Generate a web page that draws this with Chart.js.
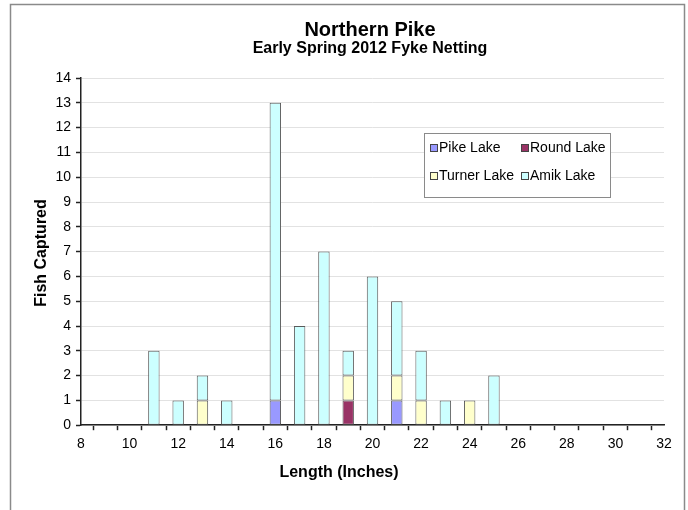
<!DOCTYPE html>
<html>
<head>
<meta charset="utf-8">
<script src="https://cdn.jsdelivr.net/npm/chart.js@4"></script>
<style>
  html, body { margin: 0; padding: 0; background: #fff; }
  #wrap { width: 688px; height: 510px; position: relative; }
</style>
</head>
<body>
<div id="wrap"><canvas id="c" width="688" height="510"></canvas></div>
<script>
// Length classes (inches) on the x axis
const lengths = [8,9,10,11,12,13,14,15,16,17,18,19,20,21,22,23,24,25,26,27,28,29,30,31,32];
// Fish captured per lake, one value per length class
const pikeLake   = [0,0,0,0,0,0,0,0,1,0,0,0,0,1,0,0,0,0,0,0,0,0,0,0,0];
const roundLake  = [0,0,0,0,0,0,0,0,0,0,0,1,0,0,0,0,0,0,0,0,0,0,0,0,0];
const turnerLake = [0,0,0,0,0,1,0,0,0,0,0,1,0,1,1,0,1,0,0,0,0,0,0,0,0];
const amikLake   = [0,0,0,3,1,1,1,0,12,4,7,1,6,3,2,1,0,2,0,0,0,0,0,0,0];
const lakeNames  = ['Pike Lake', 'Round Lake', 'Turner Lake', 'Amik Lake'];
const yTicks     = [0,1,2,3,4,5,6,7,8,9,10,11,12,13,14];

const FONT = '"Liberation Sans", Arial, sans-serif';
const colors = ['#9999FF', '#993366', '#FFFFCC', '#CCFFFF'];

function ds(label, data, color) {
  return {
    label,
    // empty classes are left out so no outline is drawn on the baseline
    data: data.map(v => (v === 0 ? null : v)),
    backgroundColor: color,
    borderColor: '#5a5a5a',
    borderWidth: 1,
    borderSkipped: false,
    barPercentage: 0.47,
    categoryPercentage: 1.0
  };
}

// Frame, titles, axis titles and legend box
const decor = {
  id: 'decor',
  afterDraw(chart) {
    const ctx = chart.ctx;
    ctx.save();
    // outer frame
    ctx.strokeStyle = '#8a8a8a';
    ctx.lineWidth = 1.5;
    ctx.beginPath();
    ctx.moveTo(10.5, 520);
    ctx.lineTo(10.5, 4.5);
    ctx.lineTo(684.5, 4.5);
    ctx.lineTo(684.5, 520);
    ctx.stroke();

    ctx.fillStyle = '#000';
    ctx.textAlign = 'center';
    ctx.textBaseline = 'middle';
    ctx.font = 'bold 20px ' + FONT;
    ctx.fillText('Northern Pike', 370, 30);
    ctx.font = 'bold 16px ' + FONT;
    ctx.fillText('Early Spring 2012 Fyke Netting', 370, 49);

    ctx.font = 'bold 16px ' + FONT;
    ctx.fillText('Length (Inches)', 339, 473);
    ctx.save();
    ctx.translate(42, 253);
    ctx.rotate(-Math.PI / 2);
    ctx.fillText('Fish Captured', 0, 0);
    ctx.restore();

    // legend
    const lx = 424, ly = 133, lw = 186, lh = 64;
    ctx.fillStyle = '#fff';
    ctx.fillRect(lx, ly, lw, lh);
    ctx.strokeStyle = '#8a8a8a';
    ctx.lineWidth = 1;
    ctx.strokeRect(lx + 0.5, ly + 0.5, lw, lh);
    const pos = [[430, 148], [521, 148], [430, 176], [521, 176]];
    ctx.font = '14px ' + FONT;
    ctx.textAlign = 'left';
    chart.data.datasets.forEach((d, i) => {
      const [x, y] = pos[i];
      ctx.fillStyle = d.backgroundColor;
      ctx.fillRect(x, y - 4, 7, 7);
      ctx.strokeStyle = '#444';
      ctx.strokeRect(x + 0.5, y - 3.5, 7, 7);
      ctx.fillStyle = '#000';
      ctx.fillText(d.label, x + 9, y);
    });
    ctx.restore();
  }
};

new Chart(document.getElementById('c'), {
  type: 'bar',
  data: {
    labels: lengths,
    datasets: [
      ds(lakeNames[0], pikeLake, colors[0]),
      ds(lakeNames[1], roundLake, colors[1]),
      ds(lakeNames[2], turnerLake, colors[2]),
      ds(lakeNames[3], amikLake, colors[3])
    ]
  },
  options: {
    responsive: false,
    animation: false,
    layout: { padding: { left: 47, right: 24, top: 78, bottom: 51 } },
    plugins: {
      legend: { display: false },
      title: { display: false },
      tooltip: { enabled: false }
    },
    scales: {
      x: {
        stacked: true,
        offset: false,
        grid: {
          drawOnChartArea: false,
          drawTicks: true,
          tickLength: 5,
          tickColor: '#222',
          tickWidth: 1.5
        },
        border: { color: '#222', width: 1.5 },
        ticks: {
          autoSkip: false,
          maxRotation: 0,
          padding: 6,
          color: '#000',
          font: { family: FONT, size: 14 },
          callback: function (v, i) {
            const n = lengths[i];
            return n % 2 === 0 ? String(n) : '';
          }
        }
      },
      y: {
        stacked: true,
        min: 0,
        max: 14,
        afterBuildTicks: s => { s.ticks = yTicks.map(v => ({ value: v })); },
        grid: {
          color: '#e2e2e2',
          lineWidth: 1,
          drawTicks: true,
          tickLength: 5,
          tickColor: '#222',
          tickWidth: 1.5
        },
        border: { color: '#222', width: 1.5 },
        ticks: {
          padding: 5,
          color: '#000',
          font: { family: FONT, size: 14 }
        },
        afterFit: s => { s.width = 34; }
      }
    }
  },
  plugins: [decor]
});
</script>
</body>
</html>
